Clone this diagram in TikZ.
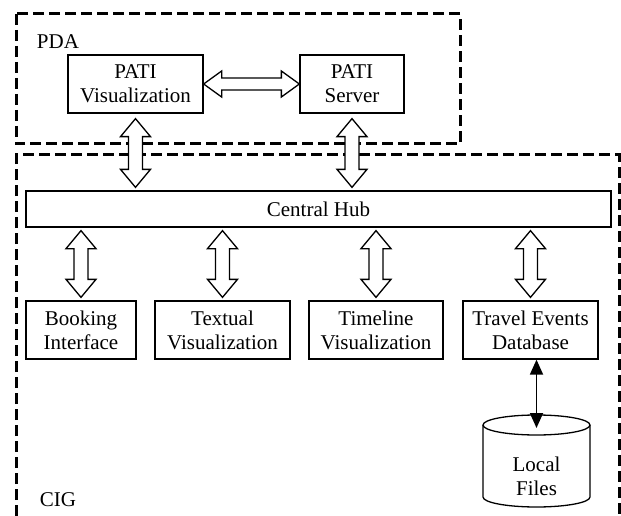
\documentclass[tikz,border=0pt]{standalone}
\usepackage{fontspec}
\setmainfont{Liberation Serif}
\usetikzlibrary{calc,arrows.meta}
\tikzset{
  box/.style={draw, line width=1.3pt, align=center, inner sep=0pt, font=\fontsize{21}{24}\selectfont},
  lbl/.style={font=\fontsize{21}{24}\selectfont, inner sep=0pt},
  region/.style={draw, line width=3pt, dash pattern=on 11pt off 5pt},
  hollow/.style={draw, fill=white, line width=1.3pt, line join=miter},
  solidarr/.style={line width=1.8pt, {Triangle[length=15pt,width=13pt]}-{Triangle[length=15pt,width=13pt]}}
}
\newcommand\hollowv[2]{%
  \path[hollow] let \p1=#1, \p2=#2 in
    (\x1,\y1) -- (\x1+15pt,\y1-18pt) -- (\x1+7pt,\y1-18pt) -- (\x1+7pt,\y2+18pt)
    -- (\x1+15pt,\y2+18pt) -- (\x1,\y2) -- (\x1-15pt,\y2+18pt) -- (\x1-7pt,\y2+18pt)
    -- (\x1-7pt,\y1-18pt) -- (\x1-15pt,\y1-18pt) -- cycle;}
\newcommand\hollowh[2]{%
  \path[hollow] let \p1=#1, \p2=#2 in
    (\x1,\y1) -- (\x1+18pt,\y1+13pt) -- (\x1+18pt,\y1+6pt) -- (\x2-18pt,\y1+6pt)
    -- (\x2-18pt,\y1+13pt) -- (\x2,\y1) -- (\x2-18pt,\y1-13pt) -- (\x2-18pt,\y1-6pt)
    -- (\x1+18pt,\y1-6pt) -- (\x1+18pt,\y1-13pt) -- cycle;}
\begin{document}
\begin{tikzpicture}[x=1pt,y=-1pt]
\useasboundingbox (0,0) rectangle (621,516);
% regions
\draw[region] (16,14) rectangle (460,144);
\draw[region] (16,516) -- (16,155) -- (619,155) -- (619,516);
\node[lbl] (pda) at (58,42) {PDA};
\node[lbl] (cig) at (58,500) {CIG};
% PDA nodes
\node[box, minimum width=135pt, minimum height=58pt] (pv) at (135.5,84) {PATI\\Visualization};
\node[box, minimum width=104pt, minimum height=58pt] (ps) at (352,84) {PATI\\Server};
% hub
\node[box, minimum width=585pt, minimum height=36pt] (hub) at (318.5,209) {Central Hub};
% bottom boxes
\node[box, minimum width=110pt, minimum height=58pt] (b1) at (81,330) {Booking\\Interface};
\node[box, minimum width=135pt, minimum height=58pt] (b2) at (222.5,330) {Textual\\Visualization};
\node[box, minimum width=134pt, minimum height=58pt] (b3) at (376,330) {Timeline\\Visualization};
\node[box, minimum width=135pt, minimum height=58pt] (b4) at (530.5,330) {Travel Events\\Database};
% local files cylinder
\path[draw, fill=white, line width=1.3pt] (483,425) -- (483,497)
  arc[start angle=180, end angle=0, x radius=53.5, y radius=10] -- (590,425);
\draw[line width=1.3pt] (536.5,425) ellipse[x radius=53.5, y radius=10];
\node[lbl, align=center] (lf) at (536.5,476) {Local\\Files};
\coordinate (lftop) at (536.5,428);
% arrows
\hollowh{(pv.east)}{(ps.west)}
\hollowv{($(pv.south)+(0,5)$)}{($(pv.south |- hub.north)+(0,-3)$)}
\hollowv{($(ps.south)+(0,5)$)}{($(ps.south |- hub.north)+(0,-3)$)}
\foreach \b in {b1,b2,b3,b4}{
  \hollowv{($(\b.north |- hub.south)+(0,3)$)}{($(\b.north)+(0,-3)$)}
}
\draw[solidarr] (lftop |- b4.south) -- (lftop);
\end{tikzpicture}
\end{document}
